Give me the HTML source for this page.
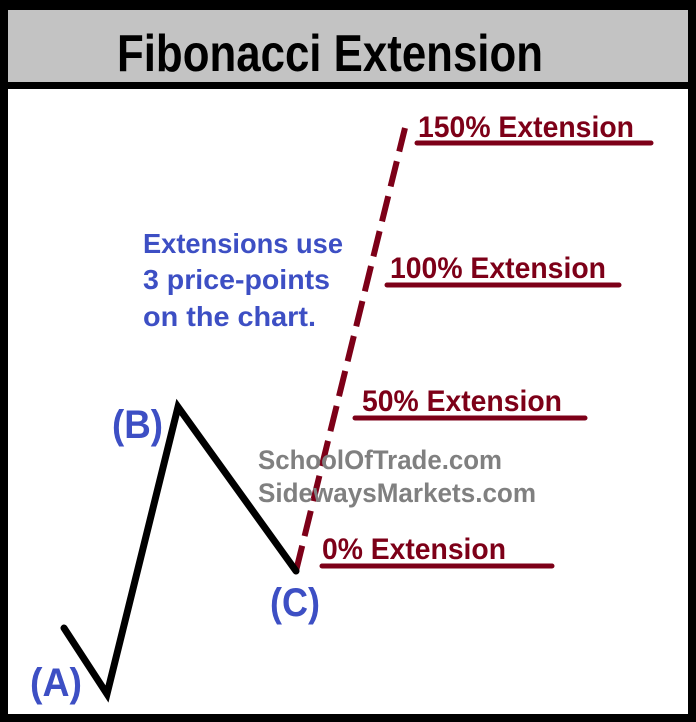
<!DOCTYPE html>
<html><head><meta charset="utf-8"><style>
html,body{margin:0;padding:0;background:#000;}
svg{display:block;}
text{font-family:"Liberation Sans",sans-serif;font-weight:bold;}
</style></head><body>
<svg width="696" height="722" viewBox="0 0 696 722" xmlns="http://www.w3.org/2000/svg">
<rect x="0" y="0" width="696" height="722" fill="#000"/>
<rect x="8" y="10" width="680" height="72" fill="#c3c3c3"/>
<rect x="8" y="89" width="680" height="625" fill="#fff"/>
<text x="117" y="71" font-size="52" fill="#000" textLength="426" lengthAdjust="spacingAndGlyphs">Fibonacci Extension</text>

<g stroke="#7d0018" stroke-width="5" stroke-linecap="round">
<line x1="417" y1="143" x2="651" y2="143"/>
<line x1="387" y1="285" x2="619" y2="285"/>
<line x1="355" y1="418" x2="585" y2="418"/>
<line x1="322" y1="566" x2="552" y2="566"/>
</g>
<line x1="296" y1="571" x2="405" y2="128" stroke="#7d0018" stroke-width="6" stroke-dasharray="26 10"/>
<g fill="#7d0018" font-size="30">
<text x="418" y="137" textLength="216" lengthAdjust="spacingAndGlyphs">150% Extension</text>
<text x="390" y="278" textLength="216" lengthAdjust="spacingAndGlyphs">100% Extension</text>
<text x="362" y="411" textLength="200" lengthAdjust="spacingAndGlyphs">50% Extension</text>
<text x="322" y="559" textLength="184" lengthAdjust="spacingAndGlyphs">0% Extension</text>
</g>

<polyline points="64,628 107,694 178,407 296,571" fill="none" stroke="#000" stroke-width="7" stroke-linejoin="miter" stroke-linecap="round"/>

<g fill="#3d4fc4">
<text x="143" y="253" font-size="28" textLength="200" lengthAdjust="spacingAndGlyphs">Extensions use</text>
<text x="143" y="289" font-size="28" textLength="187" lengthAdjust="spacingAndGlyphs">3 price-points</text>
<text x="143" y="326" font-size="28" textLength="173" lengthAdjust="spacingAndGlyphs">on the chart.</text>
<text x="112" y="438" font-size="40" textLength="51" lengthAdjust="spacingAndGlyphs">(B)</text>
<text x="270" y="616" font-size="40" textLength="50" lengthAdjust="spacingAndGlyphs">(C)</text>
<text x="30" y="696" font-size="40" textLength="52" lengthAdjust="spacingAndGlyphs">(A)</text>
</g>
<g fill="#808080" font-size="27">
<text x="258" y="469" textLength="244" lengthAdjust="spacingAndGlyphs">SchoolOfTrade.com</text>
<text x="258" y="502" textLength="278" lengthAdjust="spacingAndGlyphs">SidewaysMarkets.com</text>
</g>
</svg>
</body></html>
